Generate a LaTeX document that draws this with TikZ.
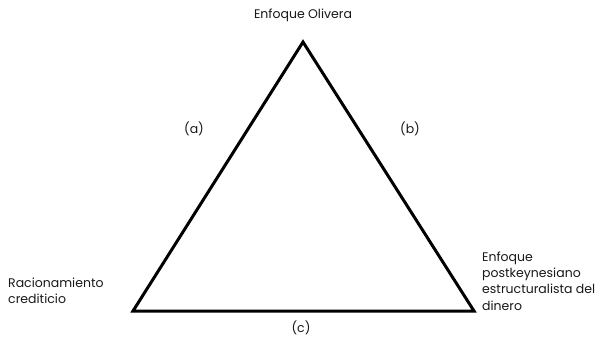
\documentclass[tikz,border=0pt]{standalone}
\usepackage{fontspec}
\setmainfont{Poppins}
\begin{document}
\begin{tikzpicture}[x=1pt,y=-1pt,
  lbl/.style={inner sep=0pt, font=\fontsize{12.5}{16.3}\selectfont, text=black!90},
  blk/.style={lbl, align=left, anchor=west},
  edge/.style={line width=3pt, line join=miter, black}]
\useasboundingbox[fill=white] (0,0) rectangle (606,340);
\coordinate (A) at (303,42);
\coordinate (B) at (133,311);
\coordinate (C) at (474,311);
\draw[edge] (A) -- (B) -- (C) -- cycle;
\node[lbl] (top) at (303,15) {Enfoque Olivera};
\node[lbl] (a) at (194,129) {(a)};
\node[lbl] (b) at (410,129) {(b)};
\node[lbl] (c) at (301,328) {(c)};
\node[blk] (left) at (8,291) {Racionamiento\\crediticio};
\node[blk] (right) at (482,281) {Enfoque\\postkeynesiano\\estructuralista del\\dinero};
\end{tikzpicture}
\end{document}
